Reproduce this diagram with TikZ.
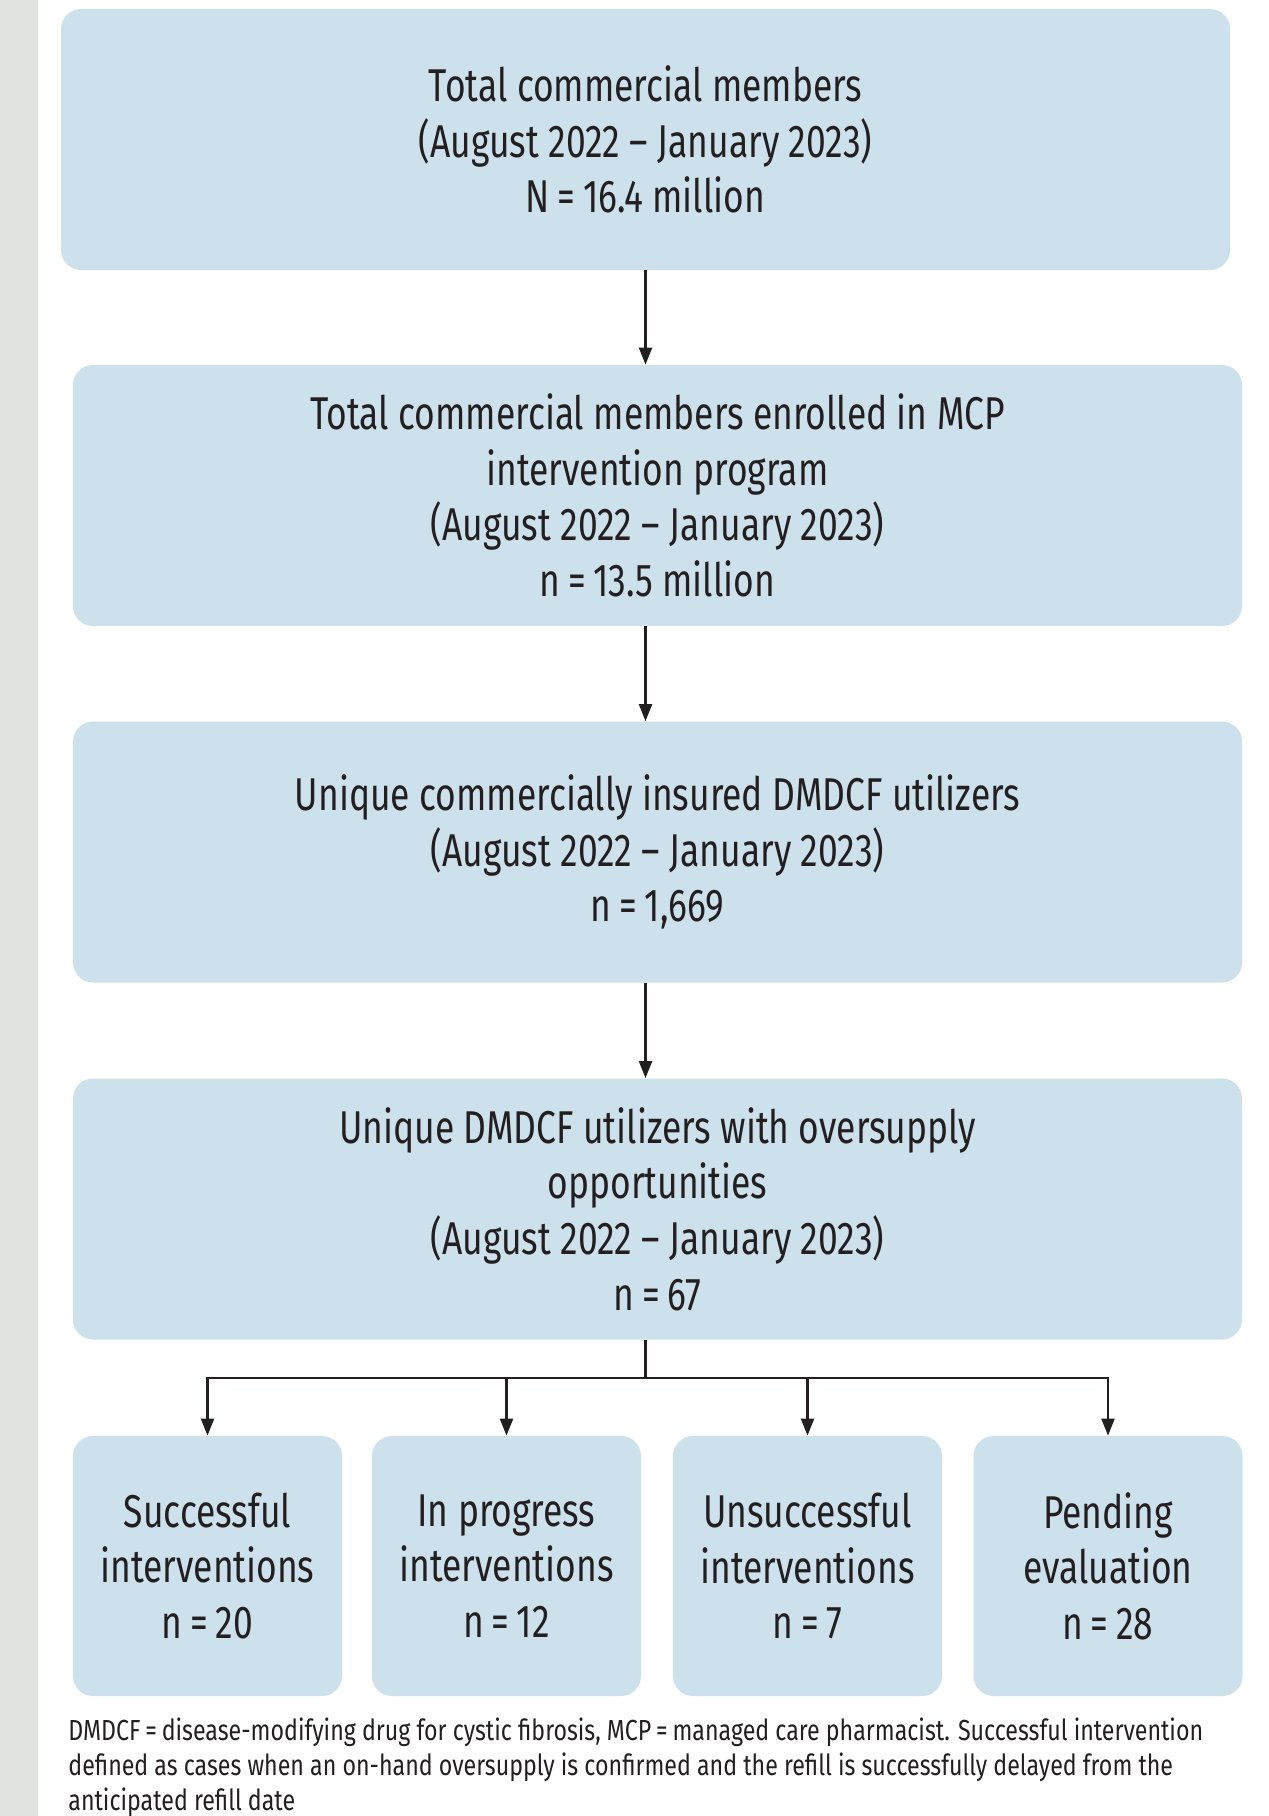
\documentclass[tikz,border=0pt]{standalone}
\usepackage{fontspec}
\setmainfont[FakeStretch=0.77]{Fira Sans}
\newfontfamily\notefont[FakeStretch=0.8]{Fira Sans}
\usetikzlibrary{arrows.meta}
\definecolor{boxfill}{HTML}{CCE1EC}
\definecolor{strip}{HTML}{E1E3E1}
\definecolor{ink}{HTML}{231F20}
\tikzset{
  x=0.5pt, y=-0.5pt,
  bigbox/.style={fill=boxfill, rounded corners=10pt, minimum width=584.5pt, minimum height=130.5pt, align=center, text=ink, font=\fontsize{23}{27.8}\selectfont, inner sep=0pt},
  smallbox/.style={fill=boxfill, rounded corners=10pt, minimum width=134.5pt, minimum height=130pt, align=center, text=ink, font=\fontsize{23}{27.8}\selectfont, inner sep=0pt},
  arr/.style={draw=ink, line width=1.1pt, -{Triangle[width=6.5pt,length=8.5pt]}},
  ln/.style={draw=ink, line width=1.1pt},
  note/.style={text=ink, font=\notefont\fontsize{14.5}{17.5}\selectfont, align=left, inner sep=0pt, anchor=north west}
}
\begin{document}
\begin{tikzpicture}
\useasboundingbox (0,0) rectangle (1269,1816);
\fill[white] (0,0) rectangle (1269,1816);
\fill[strip] (0,0) rectangle (38,1816);
\node[bigbox] (b1) at (645.5,139.5) {Total commercial members\\(August 2022 -- January 2023)\\N\,=\,16.4 million};
\node[bigbox] (b2) at (657.5,495.5) {Total commercial members enrolled in MCP\\intervention program\\(August 2022 -- January 2023)\\n\,=\,13.5 million};
\node[bigbox] (b3) at (657.5,852) {Unique commercially insured DMDCF utilizers\\(August 2022 -- January 2023)\\n\,=\,1,669};
\node[bigbox] (b4) at (657.5,1209) {Unique DMDCF utilizers with oversupply\\opportunities\\(August 2022 -- January 2023)\\n\,=\,67};
\node[smallbox] (bA) at (207.5,1566) {Successful\\interventions\\n\,=\,20};
\node[smallbox] (bB) at (506.5,1566) {In progress\\interventions\\n\,=\,12};
\node[smallbox] (bC) at (807.5,1566) {Unsuccessful\\interventions\\n\,=\,7};
\node[smallbox] (bD) at (1108,1566) {Pending\\evaluation\\n\,=\,28};
\draw[arr] (b1.south) -- (b1.south |- b2.north);
\draw[arr] (b2.south -| b1.south) -- (b3.north -| b1.south);
\draw[arr] (b3.south -| b1.south) -- (b4.north -| b1.south);
\coordinate (j) at (645.5,1378);
\draw[ln] (b4.south -| j) -- (j);
\draw[arr] (j) -| (bA.north);
\draw[arr] (j) -| (bB.north);
\draw[arr] (j) -| (bC.north);
\draw[arr] (j) -| (bD.north);
\node[note] (fn) at (68,1717) {DMDCF\,=\,disease-modifying drug for cystic fibrosis, MCP\,=\,managed care pharmacist. Successful intervention\\defined as cases when an on-hand oversupply is confirmed and the refill is successfully delayed from the\\anticipated refill date};
\end{tikzpicture}
\end{document}
